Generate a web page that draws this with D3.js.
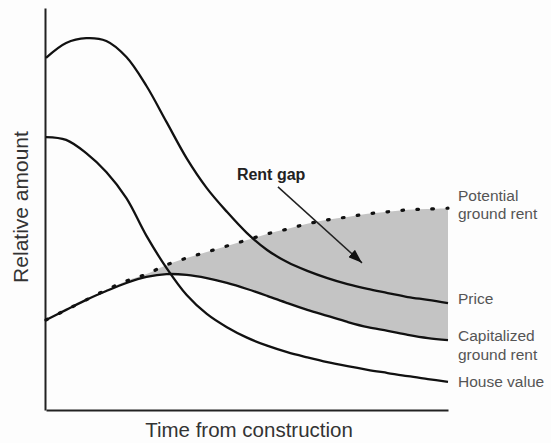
<!DOCTYPE html>
<html>
<head>
<meta charset="utf-8">
<script src="https://cdn.jsdelivr.net/npm/d3@7"></script>
<style>
  body { margin: 0; background: #fdfdfd; }
  svg { display: block; font-family: "Liberation Sans", Arial, sans-serif; }
</style>
</head>
<body>
<script>
// time since construction (arbitrary units) and relative amounts
var time = [0, 5, 10, 15, 20, 25, 30, 35, 40, 45, 50, 55, 60, 65, 70, 75, 80, 85, 90, 95, 100];
var price = [87.6, 91.3, 92.5, 91.8, 87.8, 80.6, 71.6, 62.6, 55.2, 49.3, 44.0, 39.8, 36.8, 34.6, 32.8, 31.3, 30.1, 29.1, 28.1, 27.4, 26.6];
var houseValue = [67.9, 67.2, 63.9, 59.2, 52.7, 43.3, 35.3, 28.6, 23.9, 20.6, 18.0, 16.0, 14.4, 13.1, 11.9, 10.9, 10.0, 9.2, 8.4, 7.7, 7.0];
var capitalizedRent = [22.4, 24.9, 27.4, 29.6, 31.6, 33.1, 33.8, 33.6, 32.8, 31.6, 30.1, 28.4, 26.6, 24.9, 23.4, 21.9, 20.6, 19.7, 18.7, 17.9, 17.4];
var potentialRent = [22.4, 24.9, 27.4, 29.9, 32.1, 33.8, 36.1, 37.8, 39.3, 40.8, 42.3, 43.8, 45.0, 46.3, 47.3, 48.0, 48.8, 49.3, 49.8, 50.0, 50.2];

// end-of-line labels
var labelPotential = ["Potential", "ground rent"];
var labelPrice = ["Price"];
var labelCapitalized = ["Capitalized", "ground rent"];
var labelHouse = ["House value"];

// rent gap annotation: text anchor and arrow (start, tip) in data units
var rentGapText = "Rent gap";
var rentGapLabel = [56, 57.2];
var rentGapArrow = [[57.7, 55.5], [78.6, 36.6]];

var width = 551, height = 443;
var margin = {top: 8, right: 103, bottom: 33, left: 46};

var svg = d3.select("body").append("svg")
  .attr("width", width)
  .attr("height", height);

var x = d3.scaleLinear().domain([0, 100]).range([margin.left, width - margin.right]);
var y = d3.scaleLinear().domain([0, 100]).range([height - margin.bottom, margin.top]);

var curve = d3.curveCatmullRom.alpha(0.5);

function series(values) {
  return time.map(function(t, i) { return {t: t, v: values[i]}; });
}

// shaded rent gap between potential and capitalized ground rent
var gapData = time.map(function(t, i) {
  return {t: t, lo: capitalizedRent[i], hi: potentialRent[i]};
});
svg.append("path")
  .datum(gapData)
  .attr("fill", "#c4c4c4")
  .attr("d", d3.area()
    .x(function(d) { return x(d.t); })
    .y0(function(d) { return y(d.lo); })
    .y1(function(d) { return y(d.hi); })
    .curve(curve));

// axes, no ticks
svg.append("g")
  .attr("transform", "translate(" + (margin.left - 1) + ",0)")
  .call(d3.axisLeft(y).tickValues([]).tickSizeOuter(0))
  .select(".domain").attr("stroke", "#222").attr("stroke-width", 2);

svg.append("g")
  .attr("transform", "translate(0," + y(0) + ")")
  .call(d3.axisBottom(x).tickValues([]).tickSizeOuter(0))
  .select(".domain").attr("stroke", "#222").attr("stroke-width", 2);

var line = d3.line()
  .x(function(d) { return x(d.t); })
  .y(function(d) { return y(d.v); })
  .curve(curve);

[price, capitalizedRent, houseValue].forEach(function(vals) {
  svg.append("path")
    .datum(series(vals))
    .attr("fill", "none")
    .attr("stroke", "#111")
    .attr("stroke-width", 2.3)
    .attr("d", line);
});

// potential ground rent, dotted
svg.append("path")
  .datum(series(potentialRent))
  .attr("fill", "none")
  .attr("stroke", "#111")
  .attr("stroke-width", 3.2)
  .attr("stroke-linecap", "round")
  .attr("stroke-dasharray", "1.6 13.4")
  .attr("d", line);

// arrow
svg.append("defs").append("marker")
  .attr("id", "head")
  .attr("markerUnits", "userSpaceOnUse")
  .attr("viewBox", "0 0 14 10")
  .attr("refX", 14).attr("refY", 5)
  .attr("markerWidth", 14).attr("markerHeight", 10)
  .attr("orient", "auto")
  .append("path")
  .attr("d", "M0,0 L14,5 L0,10 Z")
  .attr("fill", "#111");

svg.append("line")
  .attr("x1", x(rentGapArrow[0][0])).attr("y1", y(rentGapArrow[0][1]))
  .attr("x2", x(rentGapArrow[1][0])).attr("y2", y(rentGapArrow[1][1]))
  .attr("stroke", "#222")
  .attr("stroke-width", 1.5)
  .attr("marker-end", "url(#head)");

svg.append("text")
  .attr("x", x(rentGapLabel[0]))
  .attr("y", y(rentGapLabel[1]))
  .attr("text-anchor", "middle")
  .style("font-size", "16px")
  .style("font-weight", "bold")
  .attr("fill", "#222")
  .text(rentGapText);

// labels at the right end of each curve
function endLabel(lines, vals, dy0, gap) {
  var last = vals[vals.length - 1];
  lines.forEach(function(s, i) {
    svg.append("text")
      .attr("x", x(100) + 10)
      .attr("y", y(last) + dy0 + i * gap)
      .style("font-size", "15.5px")
      .attr("fill", "#555")
      .text(s);
  });
}
endLabel(labelPotential, potentialRent, -7, 18);
endLabel(labelPrice, price, 1, 18);
endLabel(labelCapitalized, capitalizedRent, 1, 19);
endLabel(labelHouse, houseValue, 5, 18);

// axis titles
svg.append("text")
  .attr("transform", "translate(28," + 207 + ")rotate(-90)")
  .attr("text-anchor", "middle")
  .style("font-size", "21px")
  .attr("fill", "#333")
  .text("Relative amount");

svg.append("text")
  .attr("x", 249)
  .attr("y", 437)
  .attr("text-anchor", "middle")
  .style("font-size", "20.5px")
  .attr("fill", "#333")
  .text("Time from construction");
</script>
</body>
</html>
